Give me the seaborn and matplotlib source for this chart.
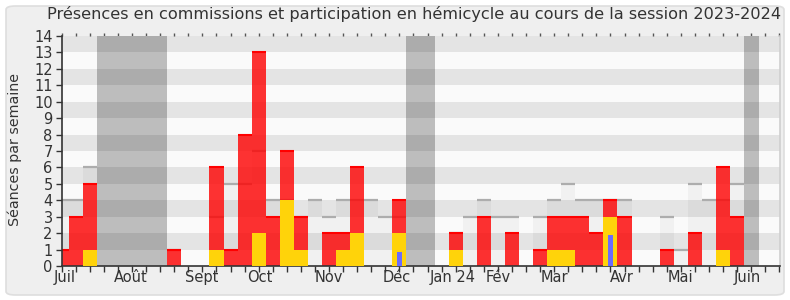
import numpy as np
import pandas as pd
import matplotlib
matplotlib.use("Agg")
import matplotlib.pyplot as plt
import seaborn as sns
from matplotlib.patches import FancyBboxPatch

# ---- data ----
weeks = list(range(52))
commission = [1, 3, 5, 0, 0, 0, 0, 0, 1, 0, 0, 6, 1, 8, 13, 3, 7, 3, 0, 2,
              2, 6, 0, 0, 4, 0, 0, 0, 2, 0, 3, 0, 2, 0, 1, 3, 3, 3, 2, 4,
              3, 0, 0, 1, 0, 2, 0, 6, 3, 0, 0, 0]
hemicycle = [0, 0, 1, 0, 0, 0, 0, 0, 0, 0, 0, 1, 0, 0, 2, 0, 4, 1, 0, 0,
             1, 2, 0, 0, 2, 0, 0, 0, 1, 0, 0, 0, 0, 0, 0, 1, 1, 0, 0, 3,
             0, 0, 0, 0, 0, 0, 0, 1, 0, 0, 0, 0]
questions = [0, 0, 0, 0, 0, 0, 0, 0, 0, 0, 0, 0, 0, 0, 0, 0, 0, 0, 0, 0,
             0, 0, 0, 0, 0.85, 0, 0, 0, 0, 0, 0, 0, 0, 0, 0, 0, 0, 0, 0, 1.9,
             0, 0, 0, 0, 0, 0, 0, 0, 0, 0, 0, 0]
median = [4, 4, 6, 0, 0, 0, 0, 0, 1, 0, 0, 3, 5, 5, 7, 4, 4, 3, 4, 3,
          4, 4, 4, 3, 3, 0, 0, 0, 2, 3, 4, 3, 3, 0, 3, 4, 5, 4, 4, 4,
          4, 0, 0, 3, 1, 5, 4, 4, 5, 0, 0, 0]
vacations = [(2.5, 7.5), (24.5, 26.5), (48.5, 49.55)]
month_labels = ["Juil", "Août", "Sept", "Oct", "Nov", "Déc", "Jan 24",
                "Fév", "Mar", "Avr", "Mai", "Juin"]
month_pos = [0.2, 4.93, 9.94, 14.1, 18.96, 23.8, 27.8, 31.0, 35.0, 39.8, 44.0, 48.7]
title = "Présences en commissions et participation en hémicycle au cours de la session 2023-2024"
ylabel = "Séances par semaine"

df = pd.DataFrame({"week": weeks, "commission": commission,
                   "hemicycle": hemicycle, "questions": questions,
                   "median": median})

sns.set_style("white")
plt.rcParams["font.family"] = ["DejaVu Sans"]

W, H = 790, 300
fig = plt.figure(figsize=(W / 100, H / 100), dpi=100)
fig.patch.set_facecolor("white")
fig.patches.append(FancyBboxPatch((6 / W, 5 / H), 778 / W, 289 / H,
                                  boxstyle="round,pad=0,rounding_size=0.012",
                                  transform=fig.transFigure, facecolor="#efefef",
                                  edgecolor="#dedede", linewidth=1.2, zorder=-10))

ax = fig.add_axes([61.7 / W, (H - 266) / H, (780 - 61.7) / W, 230 / H])
ax.set_facecolor("#fafafa")

# vacation bands
for a, b in vacations:
    ax.axvspan(a, b, color="#bdbdbd", lw=0, zorder=0.5)
# horizontal stripes
for k in range(1, 14, 2):
    ax.axhspan(k, k + 1, color="black", alpha=0.085, lw=0, zorder=0.6)

# median background bars
sns.barplot(data=df, x="week", y="median", order=weeks, width=1.0,
            color="#000000", alpha=0.035, linewidth=0, ax=ax, zorder=1,
            errorbar=None, saturation=1)
mw = df[df["median"] > 0]
ax.hlines(mw["median"], mw["week"] - 0.5, mw["week"] + 0.5, color="#adadad",
          lw=1.6, zorder=1.2)

# commission bars (red)
sns.barplot(data=df, x="week", y="commission", order=weeks, width=1.0,
            color="#ff0000", alpha=0.8, linewidth=0, ax=ax, zorder=2,
            errorbar=None, saturation=1)
cw = df[df["commission"] > 0]
ax.hlines(cw["commission"], cw["week"] - 0.5, cw["week"] + 0.5, color="#ff0000",
          lw=1.5, zorder=2.2)
# hemicycle bars (yellow)
sns.barplot(data=df, x="week", y="hemicycle", order=weeks, width=1.0,
            color="#ffd30a", linewidth=0, ax=ax, zorder=3, errorbar=None,
            saturation=1)
# questions (blue, thin)
sns.barplot(data=df, x="week", y="questions", order=weeks, width=0.33,
            color="#6b6bff", linewidth=0, ax=ax, zorder=4, errorbar=None,
            saturation=1)

ax.set_xlim(0, 51.05)
ax.set_ylim(0, 14)
ax.set_xlabel("")
ax.set_ylabel("")

ax.xaxis.remove_overlapping_locs = False
ax.set_yticks(range(15))
ax.set_yticklabels([str(v) for v in range(15)])
ax.set_xticks(weeks)
ax.set_xticklabels([])
ax.set_xticks(month_pos, minor=True)
ax.set_xticklabels(month_labels, minor=True)
ax.tick_params(axis="x", which="major", direction="out", length=4, width=1,
               color="#333333", bottom=True)
ax.tick_params(axis="x", which="minor", length=0, pad=3, labelsize=10.5,
               labelcolor="#333333")
ax.tick_params(axis="y", direction="out", length=4, width=1, color="#333333",
               left=True, labelsize=10.5, labelcolor="#333333", pad=2.5)

top = ax.secondary_xaxis("top")
top.set_xticks(weeks)
top.set_xticklabels([])
top.tick_params(direction="out", length=2, width=1, color="#555555")
top.spines["top"].set_visible(False)

ax.spines["top"].set_visible(False)
ax.spines["right"].set_color("#cfcfcf")
ax.spines["right"].set_linewidth(1.2)
for s in ["left", "bottom"]:
    ax.spines[s].set_color("#333333")
    ax.spines[s].set_linewidth(1.2)

fig.text(414 / W, 1 - 14 / H, title, ha="center", va="center",
         fontsize=11.6, color="#333333")
fig.text(15 / W, 1 - 150 / H, ylabel, ha="center", va="center",
         rotation=90, fontsize=10.3, color="#333333")

fig.savefig("out.png", dpi=100, facecolor=fig.get_facecolor())
